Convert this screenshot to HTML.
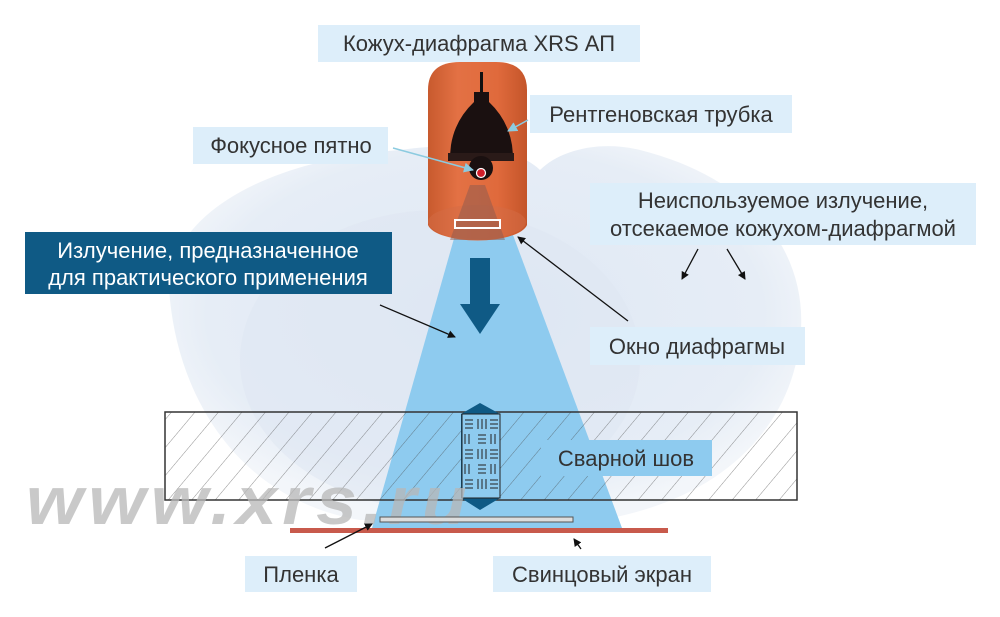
<!DOCTYPE html>
<html><head><meta charset="utf-8"><style>
html,body{margin:0;padding:0;background:#fff;}
svg{display:block;}
text{font-family:"Liberation Sans","DejaVu Sans",sans-serif;}
</style></head><body>
<svg width="1000" height="617" viewBox="0 0 1000 617" xmlns="http://www.w3.org/2000/svg">
<defs>
<radialGradient id="blob" cx="0.5" cy="0.45" r="0.55">
<stop offset="0" stop-color="#dfe8f4"/><stop offset="0.8" stop-color="#e6edf6"/><stop offset="1" stop-color="#f3f6fa"/>
</radialGradient>
<pattern id="hatch" width="18" height="18" patternUnits="userSpaceOnUse" patternTransform="rotate(40)">
<line x1="0" y1="0" x2="0" y2="18" stroke="#444" stroke-width="0.7"/>
</pattern>
<linearGradient id="cyl" x1="0" x2="1">
<stop offset="0" stop-color="#c85a2e"/><stop offset="0.3" stop-color="#e37144"/><stop offset="0.7" stop-color="#e06a3c"/><stop offset="1" stop-color="#c4552a"/>
</linearGradient>
<marker id="ah" markerWidth="8" markerHeight="8" refX="7" refY="4" orient="auto" markerUnits="userSpaceOnUse"><path d="M0,0 L8,4 L0,8 Z" fill="#111"/></marker>
<marker id="ahb" markerWidth="10" markerHeight="10" refX="9" refY="5" orient="auto" markerUnits="userSpaceOnUse"><path d="M0,0 L10,5 L0,10 Z" fill="#8ccbe0"/></marker>
</defs>
<path d="M170,300 C160,220 260,160 400,150 C470,140 520,150 540,170 C560,150 600,140 640,150 C760,180 810,260 800,340 C790,430 720,500 600,520 L360,520 C240,500 180,400 170,300 Z" fill="url(#blob)"/>
<ellipse cx="440" cy="360" rx="200" ry="150" fill="#dde6f2" opacity="0.5"/>
<polygon points="455,235 513,235 622,528 372,528" fill="#8ecbef"/>
<rect x="165" y="412" width="632" height="88" fill="url(#hatch)" opacity="0.85"/>
<rect x="165" y="412" width="632" height="88" fill="none" stroke="#333" stroke-width="1.5"/>
<polygon points="480,403 500,414 500,498 480,510 461,498 461,414" fill="#0f5a85"/>
<rect x="462" y="414" width="38" height="84" fill="#8ecbef" stroke="#222" stroke-width="1"/>
<g stroke="#222" stroke-width="1">
<path d="M465,420 h8 M465,424 h8 M465,428 h8 M478,419 v10 M482,419 v10 M486,419 v10 M490,420 h8 M490,424 h8 M490,428 h8
M465,434 v10 M469,434 v10 M478,435 h8 M478,439 h8 M478,443 h8 M491,434 v10 M495,434 v10
M465,450 h8 M465,454 h8 M465,458 h8 M478,449 v10 M482,449 v10 M486,449 v10 M490,450 h8 M490,454 h8 M490,458 h8
M465,464 v10 M469,464 v10 M478,465 h8 M478,469 h8 M478,473 h8 M491,464 v10 M495,464 v10
M465,480 h8 M465,484 h8 M465,488 h8 M478,479 v10 M482,479 v10 M486,479 v10 M490,480 h8 M490,484 h8 M490,488 h8"/>
</g>
<text x="26" y="524" font-size="68" font-weight="bold" font-style="italic" fill="#b8b8b8" opacity="0.75" letter-spacing="5" textLength="446" lengthAdjust="spacingAndGlyphs">www.xrs.ru</text>
<rect x="380" y="517" width="193" height="5" fill="#ddd" stroke="#555" stroke-width="1"/>
<rect x="290" y="528" width="378" height="5" fill="#c85a4c"/>
<path d="M428,90 Q428,62 460,62 L496,62 Q527,62 527,90 L527,225 A50,18 0 0 1 428,225 Z" fill="url(#cyl)"/>
<ellipse cx="477" cy="222" rx="49" ry="17" fill="#d36b45" opacity="0.5"/>
<polygon points="470,185 485,185 505,240 450,240" fill="#8a5a50" opacity="0.5"/>
<rect x="455" y="220" width="45" height="8" fill="none" stroke="#fff" stroke-width="2"/>
<rect x="480" y="72" width="3" height="20" fill="#111"/>
<path d="M474,92 L489,92 L489,102 Q508,120 512,145 L513,155 L450,155 L451,145 Q455,120 474,102 Z" fill="#1a1010"/>
<rect x="448" y="153" width="66" height="8" fill="#2a1a18"/>
<circle cx="481" cy="168" r="12" fill="#1a1010"/>
<circle cx="481" cy="173" r="4.5" fill="#d01f2a" stroke="#fff" stroke-width="1.2"/>
<rect x="470" y="258" width="20" height="48" fill="#0f5a85"/>
<polygon points="460,304 500,304 480,334" fill="#0f5a85"/>
<g fill="#ddeefa">
<rect x="318" y="25" width="322" height="37"/>
<rect x="530" y="95" width="262" height="38"/>
<rect x="193" y="127" width="195" height="37"/>
<rect x="590" y="183" width="386" height="62"/>
<rect x="590" y="327" width="215" height="38"/>
<rect x="245" y="556" width="112" height="36"/>
<rect x="493" y="556" width="218" height="36"/>
</g>
<rect x="541" y="440" width="171" height="36" fill="#8ecbef"/>
<rect x="25" y="232" width="367" height="62" fill="#0f5a85"/>
<g font-size="22" fill="#333">
<text x="479" y="51" text-anchor="middle">Кожух-диафрагма XRS АП</text>
<text x="661" y="122" text-anchor="middle">Рентгеновская трубка</text>
<text x="291" y="153" text-anchor="middle">Фокусное пятно</text>
<text x="783" y="208" text-anchor="middle">Неиспользуемое излучение,</text>
<text x="783" y="236" text-anchor="middle">отсекаемое кожухом-диафрагмой</text>
<text x="697" y="354" text-anchor="middle">Окно диафрагмы</text>
<text x="626" y="466" text-anchor="middle">Сварной шов</text>
<text x="301" y="582" text-anchor="middle">Пленка</text>
<text x="602" y="582" text-anchor="middle">Свинцовый экран</text>
<text x="208" y="258" text-anchor="middle" fill="#fff">Излучение, предназначенное</text>
<text x="208" y="285" text-anchor="middle" fill="#fff">для практического применения</text>
</g>
<g stroke="#111" stroke-width="1.3" fill="none">
<line x1="380" y1="305" x2="455" y2="337" marker-end="url(#ah)"/>
<line x1="628" y1="321" x2="518" y2="237" marker-end="url(#ah)"/>
<line x1="698" y1="249" x2="682" y2="279" marker-end="url(#ah)"/>
<line x1="727" y1="249" x2="745" y2="279" marker-end="url(#ah)"/>
<line x1="325" y1="548" x2="372" y2="524" marker-end="url(#ah)"/>
<line x1="581" y1="549" x2="574" y2="539" marker-end="url(#ah)"/>
</g>
<g stroke="#8ccbe0" stroke-width="1.5">
<line x1="528" y1="120" x2="508" y2="131" marker-end="url(#ahb)"/>
<line x1="393" y1="148" x2="473" y2="170" marker-end="url(#ahb)"/>
</g>
</svg>
</body></html>
